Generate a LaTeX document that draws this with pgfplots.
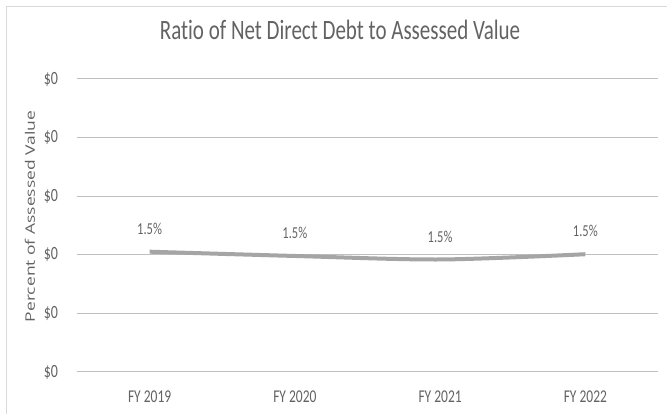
\documentclass[border=0pt]{standalone}
\usepackage{graphicx}
\usepackage{fontspec}
\setmainfont{Carlito}[FakeStretch=0.75, Ligatures={NoCommon,NoRequired,NoContextual}]
\newfontfamily\labfont{Open Sans}
\usepackage{pgfplots}
\pgfplotsset{compat=1.18}
\definecolor{txt}{HTML}{636363}
\definecolor{grid}{HTML}{D9D9D9}
\definecolor{ln}{HTML}{A5A5A5}
\begin{document}
\begin{tikzpicture}
\useasboundingbox[fill=white] (0,0) rectangle (500.25pt,310.5pt);
\draw[grid, line width=0.75pt] (4.8pt,0) -- (4.8pt,305.7pt) -- (500.25pt,305.7pt);
\begin{axis}[
  at={(57.75pt,31.5pt)}, anchor=south west,
  scale only axis, width=435.75pt, height=219.75pt,
  xmin=-0.5, xmax=3.5, ymin=0, ymax=5,
  xtick=data, xticklabels={FY 2019,FY 2020,FY 2021,FY 2022},
  ytick={0,1,2,3,4,5},
  yticklabels={\$0,\$0,\$0,\$0,\$0,\$0},
  axis line style={draw=none}, major tick length=0pt, tick style={draw=none},
  xmajorgrids=false, ymajorgrids=true, grid style={grid, line width=0.75pt},
  tick label style={font=\fontsize{13.5}{14}\selectfont, text=txt},
  xticklabel style={anchor=base, yshift=-23.25pt},
  yticklabel style={anchor=east, inner sep=0pt, xshift=-14pt, font=\fontsize{14}{15}\selectfont},
  title={Ratio of Net Direct Debt to Assessed Value},
  title style={font=\fontsize{21}{24}\selectfont, text=txt, at={(axis description cs:0.4527,1.106)}, anchor=base, inner sep=0pt},
  ylabel={\scalebox{1}[0.75]{\labfont\fontsize{13.1}{15}\selectfont Percent of Assessed Value}},
  ylabel style={text=txt, at={(axis description cs:-0.081,0.531)}, anchor=center, inner sep=0pt},
  nodes near coords={1.5\%},
  every node near coord/.append style={font=\fontsize{12.5}{14}\selectfont, text=txt, anchor=center, yshift=17.3pt},
  clip=false,
]
\addplot[ln, line width=3pt, smooth, tension=0.5, mark=none] coordinates {
  (0,2.053) (1,1.98) (2,1.92) (3,2.01)
};
\end{axis}
\end{tikzpicture}
\end{document}
